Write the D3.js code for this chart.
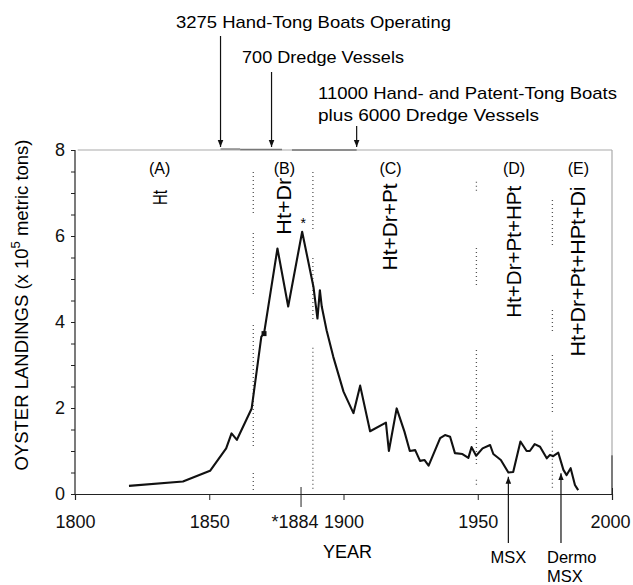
<!DOCTYPE html>
<html>
<head>
<meta charset="utf-8">
<script src="https://cdn.jsdelivr.net/npm/d3@7"></script>
<style>
  body { margin: 0; background: #fff; }
  svg { display: block; font-family: "Liberation Sans", Arial, Helvetica, sans-serif; }
  .axis path, .axis line { stroke: #222; }
  .axis text { font-size: 18px; fill: #111; font-family: "Liberation Sans", Arial, sans-serif; }
</style>
</head>
<body>
<div id="chart"></div>
<script>
// landings, x 10^5 metric tons
let years = [1820.1, 1840.2, 1850.3, 1856.3, 1858.3, 1860.3, 1865.8, 1869.4, 1870.4, 1875.4, 1879.4, 1884.6,
  1888.8, 1890.3, 1891.2, 1891.9, 1893.7, 1896.2, 1900, 1903.7, 1906.2, 1909.9, 1915.8, 1916.9, 1919.8,
  1922.7, 1924.7, 1926.7, 1928.5, 1930.2, 1931.7, 1936, 1937.8, 1939.7, 1941.5, 1944.3, 1946.5, 1947.7,
  1949.4, 1951.8, 1954.6, 1955.8, 1958.6, 1961.4, 1963.2, 1965.9, 1968.2, 1969.4, 1971.2, 1973.2, 1975.7,
  1976.9, 1978.1, 1980, 1981.9, 1983.1, 1984.6, 1986.2, 1987.4];
let landings = [0.19, 0.29, 0.54, 1.06, 1.41, 1.26, 1.99, 3.66, 3.73, 5.71, 4.36, 6.10,
  4.82, 4.08, 4.74, 4.36, 3.81, 3.19, 2.38, 1.88, 2.52, 1.46, 1.66, 1.0, 1.99,
  1.45, 1.0, 1.02, 0.77, 0.79, 0.66, 1.3, 1.37, 1.33, 0.95, 0.93, 0.84, 1.09,
  0.89, 1.06, 1.14, 0.93, 0.79, 0.5, 0.51, 1.22, 1.0, 1.0, 1.16, 1.1, 0.83,
  0.91, 0.88, 0.96, 0.56, 0.44, 0.6, 0.21, 0.09];

let xTicks = [1800, 1850, 1884, 1900, 1950, 2000];
let yTicks = d3.range(0, 8.01, 0.5);

// harvest periods
let periodKeys = ["(A)", "(B)", "(C)", "(D)", "(E)"];
let periodYears = [1831.5, 1878, 1917.5, 1963.5, 1987.5];
let periodGear = ["Ht", "Ht+Dr", "Ht+Dr+Pt", "Ht+Dr+Pt+HPt", "Ht+Dr+Pt+HPt+Di"];
let gearBottom = [6.72, 6.03, 5.2, 4.1, 3.2];
let gearLength = [15, 57, 87, 132, 170];

// dotted dividers between periods, pieces as [from, to] in landing units
let dividerYears = [1866.4, 1888.6, 1949.5, 1977.8];
let dividerPieces = [
  [[7.49, 6.53], [6.07, 4.58], [3.93, 1.09], [0.49, 0.09]],
  [[7.49, 6.14], [5.49, 4.05], [3.40, 0.09]],
  [[7.26, 7.0], [5.72, 4.79], [3.35, 1.72], [1.56, 0.63], [0.33, 0.16]],
  [[6.84, 5.74], [4.28, 3.77], [3.23, 1.88], [1.47, 0.09]]
];

// fleet notes at the top
let fleetNotes = [["3275 Hand-Tong Boats Operating"], ["700 Dredge Vessels"], ["11000 Hand- and Patent-Tong Boats", "plus 6000 Dredge Vessels"]];
let fleetYears = [1854.2, 1873.2, 1904.9];
let fleetSpans = [[1854.2, 1861.5], [1861.5, 1877.1], [1880.8, 1904.9]];

// disease arrivals
let diseaseLabels = [["MSX"], ["Dermo", "MSX"]];
let diseaseYears = [1961.4, 1981];

let width = 633, height = 585;
let margin = {left: 75, right: 21, top: 150, bottom: 91};

let x = d3.scaleLinear().domain([1800, 2000]).range([margin.left, width - margin.right]);
let y = d3.scaleLinear().domain([0, 8]).range([height - margin.bottom, margin.top]);

let svg = d3.select("#chart").append("svg")
    .attr("width", width)
    .attr("height", height);

let defs = svg.append("defs");
defs.append("marker")
    .attr("id", "arrow")
    .attr("viewBox", "0 0 10 10")
    .attr("refX", 10).attr("refY", 5)
    .attr("markerWidth", 7).attr("markerHeight", 13)
    .attr("markerUnits", "userSpaceOnUse")
    .attr("orient", "auto")
  .append("path")
    .attr("d", "M0,1 L10,5 L0,9 Z")
    .attr("fill", "#111");

// frame: faint top and upper right
svg.append("line")
    .attr("x1", x(1801)).attr("x2", x(2000))
    .attr("y1", y(8)).attr("y2", y(8))
    .attr("stroke", "#aaa").attr("stroke-width", 1.2);
svg.append("line")
    .attr("x1", x(2000)).attr("x2", x(2000))
    .attr("y1", y(8)).attr("y2", y(0.9))
    .attr("stroke", "#aaa").attr("stroke-width", 1.2);
svg.append("line")
    .attr("x1", x(2000)).attr("x2", x(2000))
    .attr("y1", y(0.9)).attr("y2", y(0))
    .attr("stroke", "#222").attr("stroke-width", 1.2);

svg.selectAll(".span")
    .data(fleetSpans)
  .enter().append("line")
    .attr("class", "span")
    .attr("x1", d => x(d[0])).attr("x2", d => x(d[1]))
    .attr("y1", (d, i) => y(8) - 1 + i * 0.5).attr("y2", (d, i) => y(8) - 1 + i * 0.5)
    .attr("stroke", "#777").attr("stroke-width", 1.3);

// y axis
let yAxis = svg.append("g")
    .attr("class", "axis")
    .attr("transform", "translate(" + margin.left + ",0)")
    .call(d3.axisLeft(y)
        .tickValues(yTicks)
        .tickSize(4)
        .tickPadding(6)
        .tickFormat(d => d % 2 == 0 ? d : ""));
yAxis.select(".domain").remove();
yAxis.append("line")
    .attr("x1", 0).attr("x2", 0)
    .attr("y1", y(8)).attr("y2", y(6))
    .attr("stroke", "#999").attr("stroke-width", 1.2);
yAxis.append("line")
    .attr("x1", 0).attr("x2", 0)
    .attr("y1", y(6)).attr("y2", y(0))
    .attr("stroke", "#222").attr("stroke-width", 1.2);
yAxis.selectAll(".tick line").attr("stroke", d => d > 6 ? "#999" : "#222");

// x axis
let xAxis = svg.append("g")
    .attr("class", "axis")
    .attr("transform", "translate(0," + y(0) + ")")
    .call(d3.axisBottom(x)
        .tickValues(xTicks)
        .tickSize(6)
        .tickPadding(15)
        .tickFormat(d => d == 1884 ? "*1884" : d));
xAxis.select(".domain").attr("stroke-width", 1.2);
xAxis.selectAll(".tick line")
    .attr("y1", d => d == 1884 ? -7 : (d == 2000 ? -6 : 0))
    .attr("y2", d => d == 1884 ? 13 : 6);
xAxis.selectAll(".tick text")
    .attr("dx", d => d == 1884 ? -6 : (d == 2000 ? -2 : 0));

svg.append("text")
    .attr("x", x(1900) + 4)
    .attr("y", 558)
    .attr("text-anchor", "middle")
    .attr("font-size", 18)
    .text("YEAR");

let yLabel = svg.append("text")
    .attr("transform", "translate(28," + 305 + ") rotate(-90)")
    .attr("text-anchor", "middle")
    .attr("font-size", 18.5);
yLabel.append("tspan").text("OYSTER LANDINGS (x 10");
yLabel.append("tspan").attr("font-size", 13).attr("dy", -8).text("5");
yLabel.append("tspan").attr("dy", 8).text(" metric tons)");

// dividers
dividerYears.forEach((yr, i) => {
    svg.selectAll(".div" + i)
        .data(dividerPieces[i])
      .enter().append("line")
        .attr("x1", x(yr)).attr("x2", x(yr))
        .attr("y1", d => y(d[0])).attr("y2", d => y(d[1]))
        .attr("stroke", "#555")
        .attr("stroke-width", 1.3)
        .attr("stroke-dasharray", "1,3");
});

// period keys and gear labels
svg.selectAll(".key")
    .data(periodKeys)
  .enter().append("text")
    .attr("x", (d, i) => x(periodYears[i]))
    .attr("y", 174)
    .attr("text-anchor", "middle")
    .attr("font-size", 16)
    .text(d => d);

svg.selectAll(".gear")
    .data(periodGear)
  .enter().append("text")
    .attr("transform", (d, i) => "translate(" + (x(periodYears[i]) + 7) + "," + y(gearBottom[i]) + ") rotate(-90)")
    .attr("font-size", 20)
    .attr("textLength", (d, i) => gearLength[i])
    .attr("lengthAdjust", "spacingAndGlyphs")
    .text(d => d);

// landings line
let line = d3.line()
    .x(d => x(d[0]))
    .y(d => y(d[1]));

svg.append("path")
    .datum(years.map((yr, i) => [yr, landings[i]]))
    .attr("fill", "none")
    .attr("stroke", "#111")
    .attr("stroke-width", 2.1)
    .attr("stroke-linejoin", "round")
    .attr("d", line);

svg.append("rect")
    .attr("x", x(1870.4) - 2.5).attr("y", y(3.73) - 2.5)
    .attr("width", 5).attr("height", 5)
    .attr("fill", "#111");

svg.append("text")
    .attr("x", x(1884.6) + 1)
    .attr("y", y(6.1) - 4)
    .attr("text-anchor", "middle")
    .attr("font-size", 14)
    .text("*");

// fleet notes with arrows
fleetNotes.forEach((lines, i) => {
    let textLeft = [176, 242, 318][i];
    let textTop = [28, 63, 99][i];
    let widths = [[275], [162], [299, 221]][i];
    lines.forEach((t, j) => {
        svg.append("text")
            .attr("x", textLeft)
            .attr("y", textTop + j * 22)
            .attr("font-size", 17)
            .attr("textLength", widths[j])
            .attr("lengthAdjust", "spacingAndGlyphs")
            .text(t);
    });
});
let arrowTops = [36, 72, 126];
svg.selectAll(".fleetArrow")
    .data(fleetYears)
  .enter().append("line")
    .attr("x1", d => x(d)).attr("x2", d => x(d))
    .attr("y1", (d, i) => arrowTops[i])
    .attr("y2", y(8) - 3)
    .attr("stroke", "#111")
    .attr("stroke-width", 1.2)
    .attr("marker-end", "url(#arrow)");

// disease arrows
let diseaseTips = [0.4, 0.48];
svg.selectAll(".diseaseArrow")
    .data(diseaseYears)
  .enter().append("line")
    .attr("x1", d => x(d)).attr("x2", d => x(d))
    .attr("y1", 543)
    .attr("y2", (d, i) => y(diseaseTips[i]))
    .attr("stroke", "#111")
    .attr("stroke-width", 1.2)
    .attr("marker-end", "url(#arrow)");

diseaseLabels.forEach((lines, i) => {
    lines.forEach((t, j) => {
        svg.append("text")
            .attr("x", i == 0 ? x(diseaseYears[i]) : x(diseaseYears[i]) - 14)
            .attr("y", 563 + j * 19)
            .attr("text-anchor", i == 0 ? "middle" : "start")
            .attr("font-size", 16.5)
            .text(t);
    });
});
</script>
</body>
</html>
